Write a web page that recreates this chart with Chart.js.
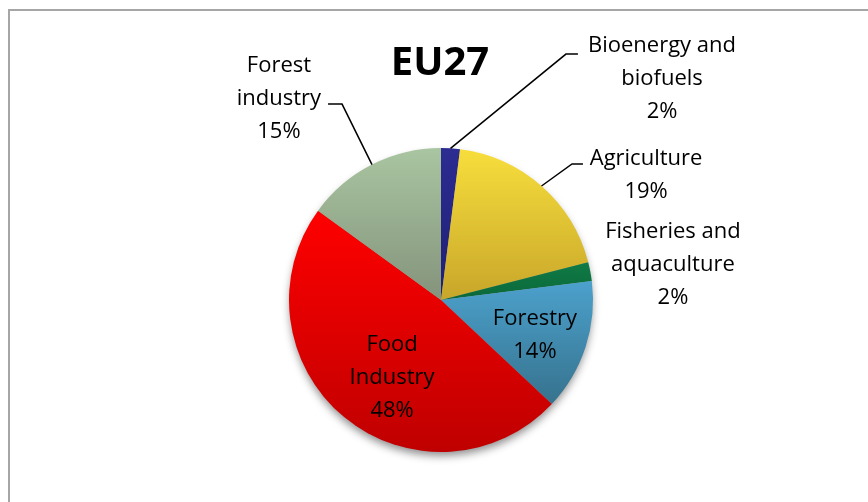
<!DOCTYPE html>
<html>
<head>
<meta charset="utf-8">
<script src="https://cdn.jsdelivr.net/npm/chart.js@4/dist/chart.umd.min.js"></script>
<style>
  html, body { margin: 0; padding: 0; background: #ffffff; overflow: hidden; }
  #wrap { position: relative; width: 868px; height: 502px; }
  #frame { position: absolute; left: 8px; top: 9px; width: 920px; height: 620px;
           border: 2px solid #a6a6a6; box-sizing: border-box; }
  #c { position: absolute; left: 0; top: 0; }
</style>
</head>
<body>
<div id="wrap">
  <div id="frame"></div>
  <canvas id="c" width="868" height="502"></canvas>
</div>
<script>
// Sector names (one entry per text line) and their shares, in %
const categories = [
  ['Bioenergy and', 'biofuels'],
  ['Agriculture'],
  ['Fisheries and', 'aquaculture'],
  ['Forestry'],
  ['Food', 'Industry'],
  ['Forest', 'industry']
];
const shares = [2, 19, 2, 14, 48, 15];
const chartTitle = 'EU27';

// Fill colours: light tone at the top of each slice, dark tone at its bottom
const topColors    = ['#2c2c92', '#f7de3c', '#0f7b45', '#4ca1cd', '#ff0000', '#a9c5a1'];
const bottomColors = ['#1f1f74', '#c8a62a', '#0b683a', '#36728d', '#bf0000', '#84937b'];

// Label placement relative to the pie centre, in units of the radius.
// dx = text centre, dy = first baseline; leader = elbow and end points.
const labelPlacement = [
  { dx: 1.454, dy: -1.632, leader: [[0.822, -1.618], [0.901, -1.618]] },
  { dx: 1.349, dy: -0.888, leader: [[0.862, -0.895], [0.934, -0.895]] },
  { dx: 1.526, dy: -0.408, leader: null },
  { dx: 0.618, dy: 0.164,  leader: null },
  { dx: -0.322, dy: 0.336, leader: null },
  { dx: -1.066, dy: -1.50, leader: [[-0.651, -1.289], [-0.743, -1.289]] }
];

const LABEL_FONT = '22px "Open Sans"';
const LINE_STEP = 33;

function sectorBox(el) {
  const { x, y, startAngle: s, endAngle: e, outerRadius: r } = el;
  const ys = [y, y + r * Math.sin(s), y + r * Math.sin(e)];
  for (let k = -4; k <= 4; k++) {
    const a = k * Math.PI / 2;
    if (a > s && a < e) ys.push(y + r * Math.sin(a));
  }
  return { top: Math.min(...ys), bottom: Math.max(...ys) };
}

// Vertical gradient per slice plus the soft drop shadow under the pie
const pieStyling = {
  id: 'pieStyling',
  beforeDatasetsDraw(chart) {
    const ctx = chart.ctx;
    const arcs = chart.getDatasetMeta(0).data;
    arcs.forEach((el, i) => {
      const box = sectorBox(el);
      const g = ctx.createLinearGradient(0, box.top, 0, box.bottom);
      g.addColorStop(0, topColors[i]);
      g.addColorStop(1, bottomColors[i]);
      el.options = Object.assign({}, el.options, { backgroundColor: g });
    });
    const a0 = arcs[0];
    ctx.save();
    ctx.shadowColor = 'rgba(0,0,0,0.45)';
    ctx.shadowBlur = 9;
    ctx.shadowOffsetY = 5;
    ctx.fillStyle = '#999999';
    ctx.beginPath();
    ctx.arc(a0.x, a0.y, a0.outerRadius - 1, 0, Math.PI * 2);
    ctx.fill();
    ctx.restore();
  }
};

// Category labels with percentages, leader lines and the title
const pieLabels = {
  id: 'pieLabels',
  afterDatasetsDraw(chart) {
    const ctx = chart.ctx;
    const arcs = chart.getDatasetMeta(0).data;
    ctx.save();
    arcs.forEach((el, i) => {
      const p = labelPlacement[i];
      const r = el.outerRadius;
      const cx = el.x, cy = el.y;
      if (p.leader) {
        const mid = (el.startAngle + el.endAngle) / 2;
        ctx.strokeStyle = '#000000';
        ctx.lineWidth = 1.5;
        ctx.beginPath();
        ctx.moveTo(cx + r * Math.cos(mid), cy + r * Math.sin(mid));
        p.leader.forEach(pt => ctx.lineTo(cx + pt[0] * r, cy + pt[1] * r));
        ctx.stroke();
      }
      const lines = categories[i].concat([shares[i] + '%']);
      ctx.font = LABEL_FONT;
      ctx.fillStyle = '#000000';
      ctx.textAlign = 'center';
      ctx.textBaseline = 'alphabetic';
      const tx = cx + p.dx * r;
      const ty = cy + p.dy * r;
      lines.forEach((t, k) => ctx.fillText(t, tx, ty + k * LINE_STEP));
    });
    const a0 = arcs[0];
    ctx.font = 'bold 40px "Open Sans"';
    ctx.textAlign = 'center';
    ctx.fillText(chartTitle, a0.x - 1, 75);
    ctx.restore();
  }
};

new Chart(document.getElementById('c'), {
  type: 'pie',
  data: {
    labels: categories.map(c => c.join(' ')),
    datasets: [{
      data: shares,
      backgroundColor: topColors,
      borderWidth: 0
    }]
  },
  options: {
    responsive: false,
    devicePixelRatio: 1,
    animation: false,
    layout: { padding: { left: 289, right: 275, top: 148, bottom: 50 } },
    plugins: {
      legend: { display: false },
      tooltip: { enabled: false },
      title: { display: false }
    }
  },
  plugins: [pieStyling, pieLabels]
});
</script>
</body>
</html>
